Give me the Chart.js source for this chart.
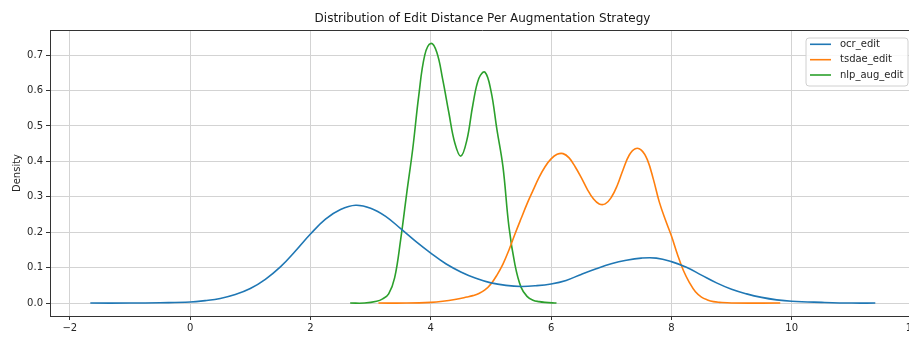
<!DOCTYPE html>
<html>
<head>
<meta charset="utf-8">
<script src="https://cdn.jsdelivr.net/npm/chart.js@4/dist/chart.umd.min.js"></script>
<style>
  html, body { margin: 0; padding: 0; background: #ffffff; overflow: hidden; }
  #wrap { width: 909px; height: 337px; overflow: hidden; position: relative; }
  #inner { width: 930px; height: 337px; position: absolute; left: 0; top: 0; }
</style>
</head>
<body>
<div id="wrap"><div id="inner"><canvas id="c" width="930" height="337"></canvas></div></div>
<script>
// ---- data ----
const seriesNames = ["ocr_edit", "tsdae_edit", "nlp_aug_edit"];

const ocrX = [-1.66,-1.0,-0.5,0.0,0.25,0.5,0.75,1.0,1.25,1.5,1.75,2.0,2.25,2.5,2.75,3.0,3.25,3.5,3.75,4.0,4.25,4.5,4.75,5.0,5.25,5.5,5.75,6.0,6.25,6.5,6.75,7.0,7.25,7.5,7.75,8.0,8.25,8.5,8.75,9.0,9.25,9.5,9.75,10.0,10.5,11.0,11.39];
const ocrY = [0.000,0.000,0.001,0.003,0.007,0.013,0.024,0.041,0.067,0.102,0.147,0.195,0.237,0.264,0.276,0.268,0.245,0.210,0.174,0.141,0.111,0.088,0.070,0.057,0.050,0.047,0.049,0.054,0.064,0.081,0.097,0.111,0.121,0.127,0.127,0.117,0.101,0.079,0.057,0.039,0.026,0.016,0.009,0.005,0.002,0.000,0.000];

const tsdaeX = [3.13,3.6,4.0,4.2,4.4,4.6,4.7,4.8,4.9,5.0,5.1,5.2,5.3,5.4,5.5,5.6,5.7,5.8,5.9,6.0,6.1,6.2,6.3,6.4,6.5,6.6,6.7,6.8,6.9,7.0,7.1,7.2,7.3,7.4,7.5,7.6,7.7,7.8,7.9,8.0,8.1,8.2,8.3,8.4,8.5,8.6,8.7,8.8,9.0,9.81];
const tsdaeY = [0.000,0.000,0.002,0.005,0.010,0.017,0.021,0.027,0.037,0.054,0.079,0.110,0.150,0.195,0.238,0.280,0.318,0.355,0.385,0.407,0.420,0.422,0.410,0.385,0.355,0.322,0.295,0.280,0.280,0.298,0.332,0.378,0.418,0.436,0.432,0.405,0.350,0.285,0.235,0.190,0.138,0.092,0.058,0.032,0.017,0.009,0.004,0.002,0.000,0.000];

const nlpX = [2.66,2.9,3.1,3.2,3.3,3.4,3.5,3.6,3.7,3.8,3.9,4.0,4.1,4.2,4.3,4.4,4.5,4.6,4.7,4.8,4.9,5.0,5.1,5.2,5.3,5.4,5.5,5.6,5.7,5.8,5.9,6.09];
const nlpY = [0.000,0.000,0.005,0.012,0.026,0.072,0.180,0.310,0.435,0.585,0.700,0.733,0.708,0.630,0.538,0.452,0.415,0.460,0.560,0.635,0.652,0.600,0.490,0.385,0.215,0.108,0.045,0.019,0.008,0.004,0.002,0.000];

const xTicks = [-2, 0, 2, 4, 6, 8, 10, 12];
const yTicks = [0.0, 0.1, 0.2, 0.3, 0.4, 0.5, 0.6, 0.7];

const colors = ["#1f77b4", "#ff7f0e", "#2ca02c"];
const FONT = "'DejaVu Sans', 'Liberation Sans', sans-serif";

function pts(xs, ys) { return xs.map((x, i) => ({ x: x, y: ys[i] })); }

const frame = {
  id: 'frame',
  afterDatasetsDraw(chart) {
    const { ctx, chartArea: a } = chart;
    ctx.save();
    ctx.strokeStyle = '#333333';
    ctx.lineWidth = 1;
    ctx.beginPath();
    ctx.moveTo(a.left, a.top + 0.5);
    ctx.lineTo(a.right, a.top + 0.5);
    ctx.moveTo(a.right - 0.5, a.top);
    ctx.lineTo(a.right - 0.5, a.bottom);
    ctx.stroke();
    ctx.restore();
  },
  afterDraw(chart) {
    const { ctx, chartArea: a } = chart;
    const w = 102, h = 48;
    const left = a.right - 7 - w, top = a.top + 8;
    ctx.save();
    ctx.beginPath();
    const r = 3;
    ctx.moveTo(left + r, top);
    ctx.arcTo(left + w, top, left + w, top + h, r);
    ctx.arcTo(left + w, top + h, left, top + h, r);
    ctx.arcTo(left, top + h, left, top, r);
    ctx.arcTo(left, top, left + w, top, r);
    ctx.closePath();
    ctx.fillStyle = 'rgba(255,255,255,0.85)';
    ctx.fill();
    ctx.strokeStyle = '#d0d0d0';
    ctx.lineWidth = 1;
    ctx.stroke();
    const rows = [6.3, 21.7, 37];
    chart.data.datasets.forEach((ds, i) => {
      const y = top + rows[i];
      ctx.strokeStyle = ds.borderColor;
      ctx.lineWidth = 1.6;
      ctx.beginPath();
      ctx.moveTo(left + 4, y);
      ctx.lineTo(left + 25, y);
      ctx.stroke();
      ctx.fillStyle = '#262626';
      ctx.font = '10px ' + FONT;
      ctx.textBaseline = 'middle';
      ctx.textAlign = 'left';
      ctx.fillText(ds.label, left + 34, y);
    });
    ctx.restore();
  }
};

new Chart(document.getElementById('c'), {
  type: 'line',
  data: {
    datasets: [
      { label: seriesNames[0], data: pts(ocrX, ocrY), borderColor: colors[0], backgroundColor: colors[0] },
      { label: seriesNames[1], data: pts(tsdaeX, tsdaeY), borderColor: colors[1], backgroundColor: colors[1] },
      { label: seriesNames[2], data: pts(nlpX, nlpY), borderColor: colors[2], backgroundColor: colors[2] }
    ]
  },
  options: {
    responsive: false,
    animation: false,
    devicePixelRatio: 1,
    layout: { padding: { left: 0, right: 15, top: 0, bottom: 0 } },
    elements: {
      point: { radius: 0, hoverRadius: 0 },
      line: { borderWidth: 1.6, tension: 0.4, cubicInterpolationMode: 'default', capBezierPoints: true, fill: false }
    },
    plugins: {
      legend: { display: false },
      tooltip: { enabled: false },
      title: {
        display: true,
        text: 'Distribution of Edit Distance Per Augmentation Strategy',
        fullSize: false,
        color: '#1a1a1a',
        font: { family: FONT, size: 12, weight: 'normal' },
        padding: { top: 12, bottom: 3.6 }
      }
    },
    scales: {
      x: {
        type: 'linear',
        min: -2.33,
        max: 12.05,
        afterBuildTicks: (s) => { s.ticks = xTicks.map(v => ({ value: v })); },
        afterFit: (s) => { s.height = 21; },
        ticks: {
          color: '#262626',
          font: { family: FONT, size: 10 },
          padding: 2,
          maxRotation: 0,
          autoSkip: false,
          callback: (v) => (v < 0 ? '\u2212' + Math.abs(v) : String(v))
        },
        grid: { color: '#d3d3d3', lineWidth: 1, tickLength: 4, tickColor: '#333333', drawTicks: true },
        border: { display: true, color: '#333333', width: 1 }
      },
      y: {
        type: 'linear',
        min: -0.0365,
        max: 0.771,
        afterBuildTicks: (s) => { s.ticks = yTicks.map(v => ({ value: v })); },
        afterFit: (s) => { s.width = 50; },
        title: {
          display: true,
          text: 'Density',
          color: '#262626',
          font: { family: FONT, size: 10 },
          padding: { top: 11, bottom: 0 }
        },
        ticks: {
          color: '#262626',
          font: { family: FONT, size: 10 },
          padding: 3,
          autoSkip: false,
          callback: (v) => Number(v).toFixed(1)
        },
        grid: { color: '#d3d3d3', lineWidth: 1, tickLength: 4, tickColor: '#333333', drawTicks: true },
        border: { display: true, color: '#333333', width: 1 }
      }
    }
  },
  plugins: [frame]
});
</script>
</body>
</html>
